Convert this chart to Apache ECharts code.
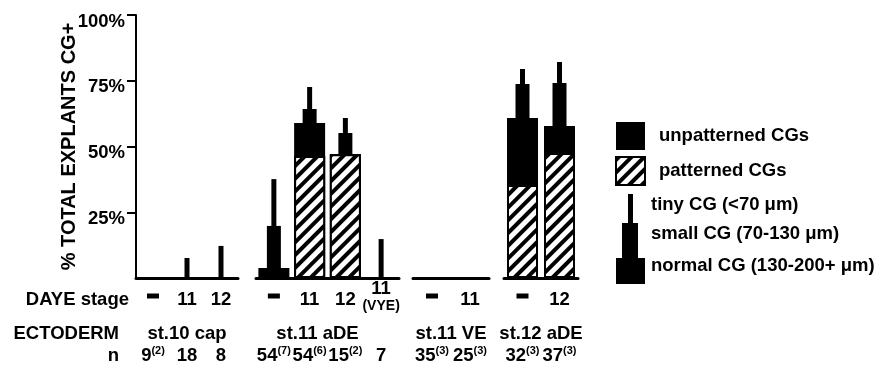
<!DOCTYPE html>
<html><head><meta charset="utf-8">
<script src="https://cdn.jsdelivr.net/npm/echarts@6/dist/echarts.min.js"></script>
<style>html,body{margin:0;padding:0;background:#fff}#c{width:889px;height:376px}</style>
</head><body><div id="c"></div>
<script>
// ---- data ----
const groupNames = ['st.10 cap', 'st.11 aDE', 'st.11 VE', 'st.12 aDE'];
const dayeStages = [['-', '11', '12'], ['-', '11', '12', '11 (VYE)'], ['-', '11'], ['-', '12']];
const patterned = [[0, 0, 0], [0, 46.4, 47.1, 0], [0, 0], [35.4, 47.5]];      // patterned normal CGs (%)
const normalTop = [[0, 0, 0], [3.8, 58.9, 47.1, 0], [0, 0], [60.8, 57.8]];     // top of normal CGs (%)
const smallTop = [[0, 0, 0], [19.8, 64.3, 55.1, 0], [0, 0], [73.8, 74.1]];     // top of small CGs (%)
const tinyTop = [[0, 7.6, 12.2], [37.6, 72.6, 60.8, 14.8], [0, 0], [79.5, 82.1]]; // top of tiny CGs (%)
const nCounts = [['9', '18', '8'], ['54', '54', '15', '7'], ['35', '25'], ['32', '37']];
const nSup = [['(2)', '', ''], ['(7)', '(6)', '(2)', ''], ['(3)', '(3)'], ['(3)', '(3)']];
const yTicks = [25, 50, 75, 100];
const sizeKey = ['tiny CG (<70 \u03bcm)', 'small CG (70-130 \u03bcm)', 'normal CG (130-200+ \u03bcm)'];

// ---- layout / style ----
const FONT = '"Liberation Sans", Arial, Helvetica, sans-serif';
const FS = 18.5;
const BOLD = { fontFamily: FONT, fontWeight: 'bold', color: '#000' };
const gridBoxes = [{ left: 136, width: 102 }, { left: 256, width: 143 }, { left: 413, width: 76 }, { left: 504, width: 74 }];
const ectoPad = [[0, 0, 0, 0], [0, 20, 0, 0], [0, 0, 0, 0], [0, 0, 0, 0]];
const hatch = { symbol: 'rect', symbolSize: 1, dashArrayX: [1, 0], dashArrayY: [4, 5], rotation: -Math.PI / 4, color: '#000', backgroundColor: '#fff' };

const grid = [], xAxis = [], yAxis = [], series = [];
gridBoxes.forEach((g, i) => {
  grid.push({ left: g.left, width: g.width, top: 15, height: 263, containLabel: false, outerBoundsMode: 'none' });
  if (i === 0) {
    yAxis.push({
      gridIndex: 0, type: 'value', min: 0, max: 100, interval: 25,
      name: '% TOTAL EXPLANTS CG+', nameLocation: 'middle', nameGap: 57, nameRotate: 90, nameMoveOverlap: false,
      nameTextStyle: Object.assign({ fontSize: 20 }, BOLD),
      axisLine: { show: true, lineStyle: { color: '#000', width: 2 } },
      axisTick: { show: true, customValues: yTicks, length: 9, lineStyle: { color: '#000', width: 2 } },
      axisLabel: Object.assign({
        customValues: yTicks, margin: 11,
        formatter: v => '{sp|}\n{v|' + v + '%}',
        rich: { sp: { height: 13, lineHeight: 13 }, v: Object.assign({ fontSize: FS, lineHeight: 19 }, BOLD) }
      }, BOLD),
      splitLine: { show: false }
    });
  } else {
    yAxis.push({ gridIndex: i, type: 'value', min: 0, max: 100, show: false, splitLine: { show: false } });
  }
  const base = { gridIndex: i, type: 'category', position: 'bottom', data: dayeStages[i], axisTick: { show: false }, splitLine: { show: false } };
  // DAYE stage axis (carries the baseline)
  xAxis.push(Object.assign({}, base, {
    axisLine: { show: true, lineStyle: { color: '#000', width: 3 } },
    axisLabel: Object.assign({
      interval: 0, margin: 22, verticalAlign: 'middle', fontSize: FS,
      formatter: v => v === '-' ? '{d|}\n{e|}' : (v === '11 (VYE)' ? '{a|11}\n{b|(VYE)}\n{f|}' : '{a|' + v + '}'),
      rich: {
        d: { width: 12, height: 5, lineHeight: 5, backgroundColor: '#000' },
        e: { height: 8, lineHeight: 8 },
        f: { height: 6, lineHeight: 6 },
        a: Object.assign({ fontSize: FS, lineHeight: 18 }, BOLD),
        b: Object.assign({ fontSize: 14, lineHeight: 16 }, BOLD)
      }
    }, BOLD)
  }));
  // n axis (small CG bars)
  xAxis.push(Object.assign({}, base, {
    offset: 78, axisLine: { show: false },
    axisLabel: Object.assign({
      interval: 0, margin: 0, verticalAlign: 'middle', fontSize: FS,
      formatter: (v, idx) => '{v|' + nCounts[i][idx] + '}' + (nSup[i][idx] ? '{s|' + nSup[i][idx] + '}' : ''),
      rich: {
        v: Object.assign({ fontSize: FS, lineHeight: 22 }, BOLD),
        s: Object.assign({ fontSize: 11, lineHeight: 10, verticalAlign: 'top' }, BOLD)
      }
    }, BOLD)
  }));
  // tiny CG axis (hidden)
  xAxis.push(Object.assign({}, base, { axisLine: { show: false }, axisLabel: { show: false } }));
  // ECTODERM axis
  xAxis.push({
    gridIndex: i, type: 'category', position: 'bottom', data: [groupNames[i]], offset: 56,
    axisLine: { show: false }, axisTick: { show: false }, splitLine: { show: false },
    axisLabel: Object.assign({
      margin: 0, verticalAlign: 'middle', fontSize: FS,
      formatter: v => '{t|' + v + '}',
      rich: { t: Object.assign({ fontSize: FS, padding: ectoPad[i] }, BOLD) }
    }, BOLD)
  });
  const xi = i * 4;
  series.push({ type: 'bar', name: 'unpatterned CGs', xAxisIndex: xi, yAxisIndex: i, data: normalTop[i], barWidth: 31, barGap: '-100%', itemStyle: { color: '#000' }, z: 4 });
  series.push({ type: 'bar', name: 'patterned CGs', xAxisIndex: xi, yAxisIndex: i, data: patterned[i], barWidth: 31, barGap: '-100%', itemStyle: { color: '#fff', borderColor: '#000', borderWidth: 2, decal: hatch }, z: 5 });
  series.push({ type: 'bar', name: sizeKey[1], xAxisIndex: xi + 1, yAxisIndex: i, data: smallTop[i], barWidth: 14, itemStyle: { color: '#000' }, z: 3 });
  series.push({ type: 'bar', name: sizeKey[0], xAxisIndex: xi + 2, yAxisIndex: i, data: tinyTop[i], barWidth: 5, itemStyle: { color: '#000' }, z: 2 });
});

const txt = (t, x, y, align) => ({ type: 'text', x: x, y: y, style: { text: t, align: align, verticalAlign: 'middle', fill: '#000', font: 'bold ' + FS + 'px ' + FONT } });
const graphic = [
  txt('DAYE stage', 129, 300, 'right'),
  txt('ECTODERM', 119, 334, 'right'),
  txt('n', 119, 356, 'right'),
  { type: 'rect', shape: { x: 628, y: 194, width: 5, height: 29 }, style: { fill: '#000' } },
  { type: 'rect', shape: { x: 622, y: 223, width: 16, height: 35 }, style: { fill: '#000' } },
  { type: 'rect', shape: { x: 616, y: 258, width: 29, height: 26 }, style: { fill: '#000' } },
  txt(sizeKey[0], 651, 205, 'left'),
  txt(sizeKey[1], 651, 234, 'left'),
  txt(sizeKey[2], 651, 266, 'left')
];

const chart = echarts.init(document.getElementById('c'), null, { renderer: 'canvas' });
chart.setOption({
  animation: false,
  backgroundColor: '#fff',
  grid, xAxis, yAxis, series, graphic,
  legend: {
    orient: 'vertical', left: 610, top: 117, itemWidth: 29, itemHeight: 28, itemGap: 6, icon: 'rect',
    selectedMode: false, data: ['unpatterned CGs', 'patterned CGs'],
    formatter: '{b|{name}}',
    textStyle: Object.assign({
      fontSize: FS, padding: [0, 0, 0, 9],
      rich: { b: Object.assign({ fontSize: FS }, BOLD) }
    }, BOLD)
  }
});
</script></body></html>
